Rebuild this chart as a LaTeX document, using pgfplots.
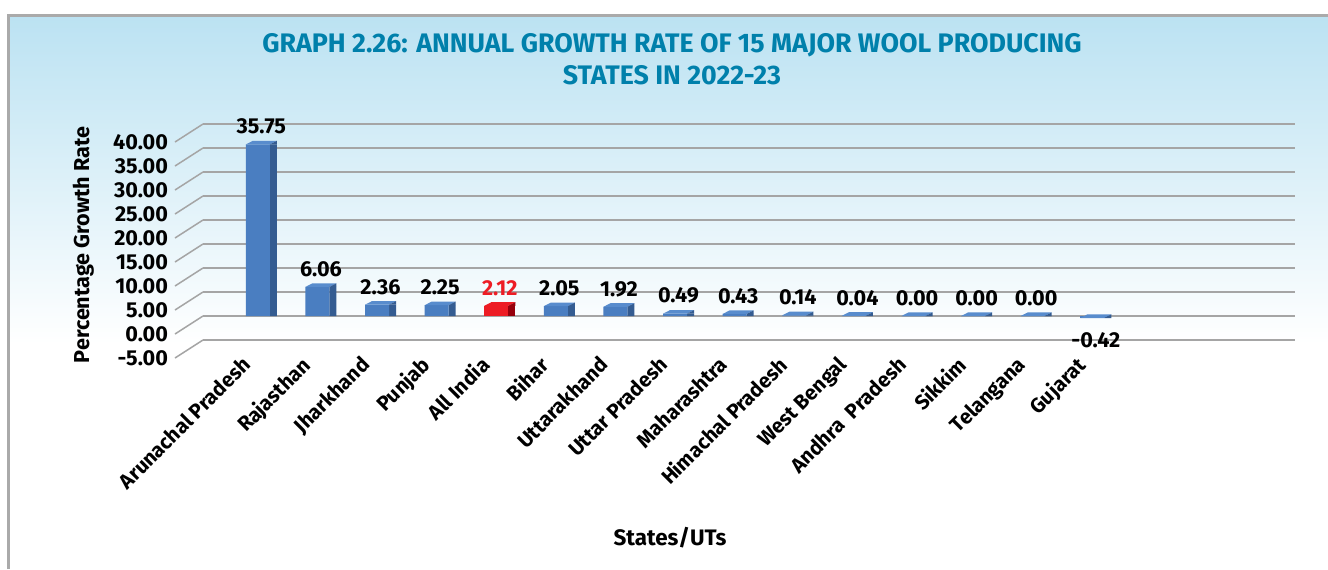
\documentclass[border=0pt]{standalone}
\usepackage{fontspec}
\setmainfont{Fira Sans}
\usepackage{pgfplots}
\pgfplotsset{compat=1.18}
\usepackage{pgfplotstable}

\definecolor{barblue}{RGB}{74,126,193}
\definecolor{barside}{RGB}{52,92,145}
\definecolor{bartop}{RGB}{88,140,205}
\definecolor{barred}{RGB}{237,28,36}
\definecolor{barredside}{RGB}{150,0,12}
\definecolor{titleblue}{RGB}{0,128,171}
\definecolor{gridgray}{RGB}{165,165,165}
\definecolor{bordergray}{RGB}{170,170,170}
\definecolor{skytop}{RGB}{187,226,242}

% top face + corner of the side face, drawn at the top of each bar
\pgfdeclareplotmark{capblue}{%
  \pgfpathmoveto{\pgfpoint{-6pt}{0pt}}\pgfpathlineto{\pgfpoint{6pt}{0pt}}%
  \pgfpathlineto{\pgfpoint{9.5pt}{1.8pt}}\pgfpathlineto{\pgfpoint{-2.5pt}{1.8pt}}\pgfpathclose
  \pgfsetfillcolor{bartop}\pgfusepath{fill}%
  \pgfpathmoveto{\pgfpoint{6pt}{0pt}}\pgfpathlineto{\pgfpoint{9.5pt}{1.8pt}}%
  \pgfpathlineto{\pgfpoint{9.5pt}{0pt}}\pgfpathclose
  \pgfsetfillcolor{barside}\pgfusepath{fill}}
\pgfdeclareplotmark{capred}{%
  \pgfpathmoveto{\pgfpoint{-6pt}{0pt}}\pgfpathlineto{\pgfpoint{6pt}{0pt}}%
  \pgfpathlineto{\pgfpoint{9.5pt}{1.8pt}}\pgfpathlineto{\pgfpoint{-2.5pt}{1.8pt}}\pgfpathclose
  \pgfsetfillcolor{barred}\pgfusepath{fill}%
  \pgfpathmoveto{\pgfpoint{6pt}{0pt}}\pgfpathlineto{\pgfpoint{9.5pt}{1.8pt}}%
  \pgfpathlineto{\pgfpoint{9.5pt}{0pt}}\pgfpathclose
  \pgfsetfillcolor{barredside}\pgfusepath{fill}}

\pgfplotstableread{
idx grow
0 35.75
1 6.06
2 2.36
3 2.25
5 2.05
6 1.92
7 0.49
8 0.43
9 0.14
10 0.04
11 0.00
12 0.00
13 0.00
}\states
\pgfplotstableread{
idx grow
14 -0.42
}\gujarat
\pgfplotstableread{
idx grow
4 2.12
}\allindia

\begin{document}
\begin{tikzpicture}
\path[use as bounding box] (0pt,0pt) rectangle (664pt,-284.5pt);
\fill[white] (0pt,0pt) rectangle (664pt,-284.5pt);
\shade[top color=skytop, bottom color=white] (4pt,-7.5pt) rectangle (664pt,-172pt);
\draw[bordergray, line width=1.5pt] (4pt,-284.5pt) -- (4pt,-7.5pt) -- (664pt,-7.5pt);

\node[anchor=base, text=titleblue, font=\bfseries\fontsize{13.4}{16}\selectfont]
  at (336pt,-26pt) {GRAPH 2.26: ANNUAL GROWTH RATE OF 15 MAJOR WOOL PRODUCING};
\node[anchor=base, text=titleblue, font=\bfseries\fontsize{13.4}{16}\selectfont]
  at (336pt,-42pt) {STATES IN 2022-23};
\node[anchor=base, font=\bfseries\fontsize{11.2}{13}\selectfont]
  at (335pt,-272.5pt) {States/UTs};

\begin{axis}[
  at={(101.5pt,-170pt)}, anchor=south west,
  scale only axis, width=546pt, height=108pt,
  xmin=-0.92, xmax=17.4, ymin=-5, ymax=40,
  clip=false,
  axis line style={draw=none}, tick style={draw=none},
  ymajorgrids, grid style={gridgray, line width=0.75pt},
  ytick={-5,0,...,40},
  /pgf/number format/assume math mode=true,
  yticklabel style={font=\bfseries\fontsize{10.8}{12}\selectfont,
    /pgf/number format/fixed, /pgf/number format/fixed zerofill,
    /pgf/number format/precision=2, xshift=-14pt, yshift=-9pt},
  xtick={0,...,14},
  xticklabels={Arunachal Pradesh, Rajasthan, Jharkhand, Punjab, All India, Bihar,
    Uttarakhand, Uttar Pradesh, Maharashtra, Himachal Pradesh, West Bengal,
    Andhra~ Pradesh, Sikkim, Telangana, Gujarat},
  xticklabel style={font=\bfseries\fontsize{10.3}{12}\selectfont,
    xshift=-8.5pt, yshift=-2.5pt, rotate=45, anchor=north east},
  ylabel={Percentage Growth Rate},
  ylabel style={at={(axis description cs:0,0.5)}, anchor=south,
    yshift=51pt, xshift=-6.5pt, font=\bfseries\fontsize{10.8}{12}\selectfont},
  nodes near coords align={vertical},
  every node near coord/.append style={font=\bfseries\fontsize{10.8}{12}\selectfont,
    /pgf/number format/fixed, /pgf/number format/fixed zerofill,
    /pgf/number format/precision=2, xshift=1.75pt, yshift=1.5pt},
]
\pgfplotsinvokeforeach{-5,0,...,40}{
  \draw[gridgray, line width=0.75pt] (axis cs:-0.92,#1) -- ++(-14pt,-9pt);
}
% side faces
\addplot[ybar, bar width=3.5pt, bar shift=7.75pt, fill=barside, draw=none]
  table[x=idx, y=grow] {\states};
\addplot[ybar, bar width=3.5pt, bar shift=7.75pt, fill=barside, draw=none]
  table[x=idx, y=grow] {\gujarat};
\addplot[ybar, bar width=3.5pt, bar shift=7.75pt, fill=barredside, draw=none]
  table[x=idx, y=grow] {\allindia};
% front faces
\addplot[ybar, bar width=12pt, bar shift=0pt, fill=barblue, draw=none]
  table[x=idx, y=grow] {\states};
\addplot[ybar, bar width=12pt, bar shift=0pt, fill=barblue, draw=none]
  table[x=idx, y=grow] {\gujarat};
\addplot[ybar, bar width=12pt, bar shift=0pt, fill=barred, draw=none]
  table[x=idx, y=grow] {\allindia};
% tops and value labels
\addplot[only marks, mark=capblue, nodes near coords]
  table[x=idx, y=grow] {\states};
\addplot[only marks, mark=capblue, nodes near coords,
  every node near coord/.append style={yshift=-5pt}]
  table[x=idx, y=grow] {\gujarat};
\addplot[only marks, mark=capred, nodes near coords,
  every node near coord/.append style={text=barred}]
  table[x=idx, y=grow] {\allindia};
\end{axis}
\end{tikzpicture}
\end{document}
